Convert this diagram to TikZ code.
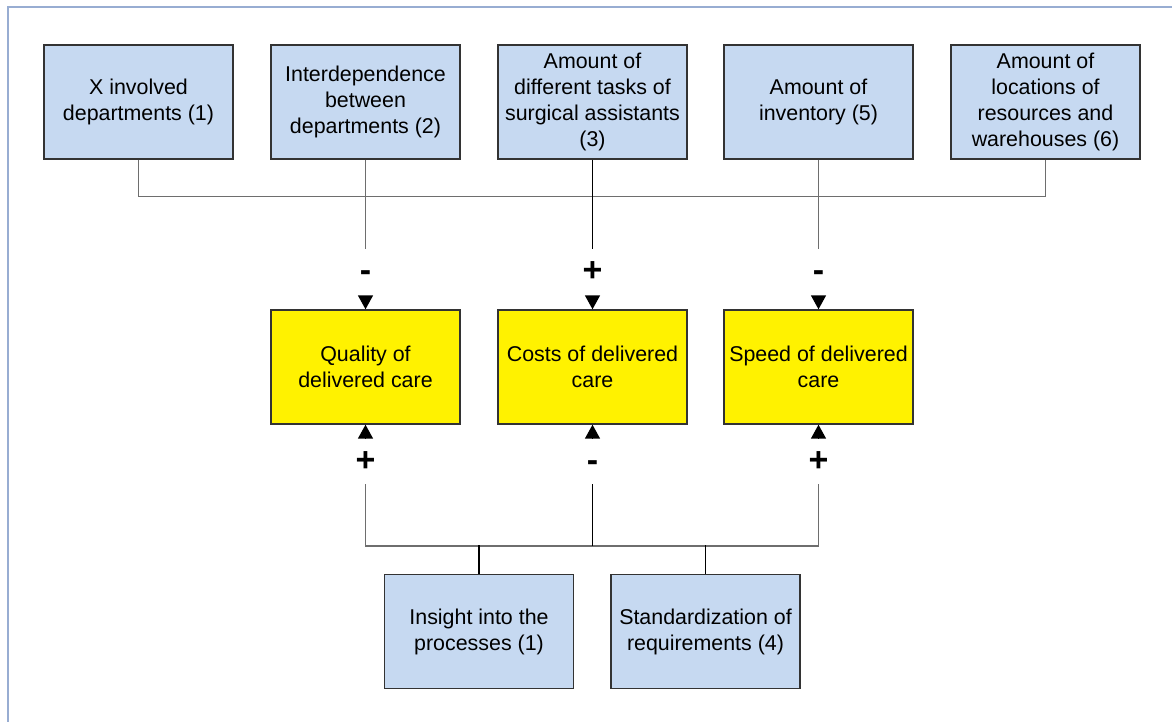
\documentclass[tikz,border=0pt]{standalone}
\usepackage{fontspec}
\setmainfont{Liberation Sans}
\usetikzlibrary{arrows.meta}
\definecolor{boxblue}{HTML}{C6D9F1}
\definecolor{boxline}{HTML}{333333}
\definecolor{wiregray}{HTML}{6E6E6E}
\definecolor{frameblue}{HTML}{98ADD2}
\begin{document}
\begin{tikzpicture}[x=1pt,y=-1pt,
  factor/.style={draw=boxline, line width=1.4pt, fill=boxblue, minimum width=189pt,
    minimum height=114pt, inner sep=0pt, align=center, font=\fontsize{21.4}{26}\selectfont},
  outcome/.style={factor, fill=yellow},
  wire/.style={draw=wiregray, line width=1.5pt},
  darkwire/.style={draw=black, line width=1.5pt},
  sign/.style={anchor=base, inner sep=0pt, font=\fontsize{34}{34}\selectfont\bfseries},
  head/.style={-{Triangle[width=15pt,length=14pt]}, line width=1.5pt}
]
\useasboundingbox (0,0) rectangle (1172,722);
\fill[white] (0,0) rectangle (1172,722);
\draw[frameblue, line width=2pt] (7.5,722) -- (7.5,7.5) -- (1172,7.5);

% influencing factors (top row)
\node[factor] (t1) at (138.5,102) {X involved\\departments (1)};
\node[factor] (t2) at (365.5,102) {Interdependence\\between\\departments (2)};
\node[factor] (t3) at (592.5,102) {Amount of\\different tasks of\\surgical assistants\\(3)};
\node[factor] (t4) at (818.5,102) {Amount of\\inventory (5)};
\node[factor] (t5) at (1045.5,102) {Amount of\\locations of\\resources and\\warehouses (6)};

% outcomes
\node[outcome] (q1) at (365.5,367) {Quality of\\delivered care};
\node[outcome] (q2) at (592.5,367) {Costs of delivered\\care};
\node[outcome] (q3) at (818.5,367) {Speed of delivered\\care};

% improvement measures (bottom row)
\node[factor] (b1) at (479,631.5) {Insight into the\\processes (1)};
\node[factor] (b2) at (705.5,631.5) {Standardization of\\requirements (4)};

% upper bus
\coordinate (e1) at (365.5,249);
\coordinate (e2) at (592.5,249);
\coordinate (e3) at (818.5,249);
\draw[wire] (t1.south) -- ++(0,37) -| (t5.south);
\draw[wire] (t2.south) -- (e1);
\draw[darkwire] (t3.south) -- (e2);
\draw[wire] (t4.south) -- (e3);

\node[sign] (s1) at (365.5,281) {-};
\node[sign] (s2) at (592.5,281) {+};
\node[sign] (s3) at (818.5,281) {-};

\coordinate (h1) at (365.5,296);
\coordinate (h2) at (592.5,296);
\coordinate (h3) at (818.5,296);
\draw[head] (h1) -- (q1.north);
\draw[head] (h2) -- (q2.north);
\draw[head] (h3) -- (q3.north);

% lower bus
\coordinate (u1) at (365.5,438);
\coordinate (u2) at (592.5,438);
\coordinate (u3) at (818.5,438);
\draw[head] (u1) -- (q1.south);
\draw[head] (u2) -- (q2.south);
\draw[head] (u3) -- (q3.south);

\node[sign] (s4) at (365.5,471) {+};
\node[sign] (s5) at (592.5,471) {-};
\node[sign] (s6) at (818.5,471) {+};

\coordinate (d1) at (365.5,484);
\coordinate (d2) at (592.5,484);
\coordinate (d3) at (818.5,484);
\draw[wire] (d1) -- ++(0,62) -| (d3);
\draw[darkwire] (d2) -- ++(0,62);
\draw[darkwire] (b1.north) -- ++(0,-29);
\draw[darkwire] (b2.north) -- ++(0,-29);
\end{tikzpicture}
\end{document}
